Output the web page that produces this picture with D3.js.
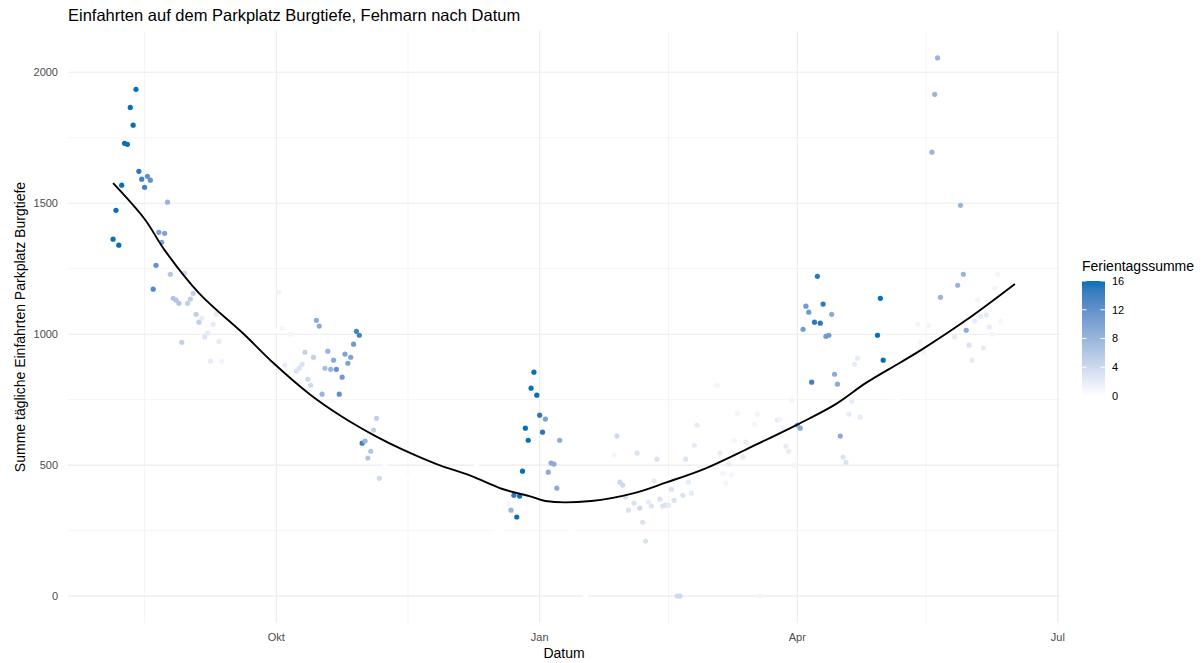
<!DOCTYPE html>
<html>
<head>
<meta charset="utf-8">
<script src="https://cdn.jsdelivr.net/npm/d3@7"></script>
<style>
  body { margin: 0; background: #fff; }
  text { font-family: "Liberation Sans", Arial, sans-serif; }
</style>
</head>
<body>
<div class="main"></div>
<script>
// Daily entries: date, count, holiday-day sum (Ferientagssumme)
const dates = [
  "2022-08-05","2022-08-06","2022-08-07","2022-08-08","2022-08-09","2022-08-10","2022-08-11","2022-08-12",
  "2022-08-13","2022-08-14","2022-08-15","2022-08-16","2022-08-17","2022-08-18","2022-08-19","2022-08-20",
  "2022-08-21","2022-08-22","2022-08-23","2022-08-24","2022-08-25","2022-08-26","2022-08-27","2022-08-28",
  "2022-08-29","2022-08-30","2022-08-31","2022-09-01","2022-09-02","2022-09-03","2022-09-04","2022-09-05",
  "2022-09-06","2022-09-07","2022-09-08","2022-09-09","2022-09-10","2022-09-11","2022-09-12",
  "2022-10-01","2022-10-02","2022-10-03","2022-10-04","2022-10-06","2022-10-08","2022-10-09","2022-10-10",
  "2022-10-11","2022-10-12","2022-10-13","2022-10-14","2022-10-15","2022-10-16","2022-10-17","2022-10-18",
  "2022-10-19","2022-10-20","2022-10-21","2022-10-22","2022-10-23","2022-10-24","2022-10-25","2022-10-26",
  "2022-10-27","2022-10-28","2022-10-29","2022-10-30","2022-10-31","2022-11-01","2022-11-02","2022-11-03",
  "2022-11-04","2022-11-05","2022-11-06","2022-11-08","2022-11-16","2022-12-10","2022-12-17","2022-12-19",
  "2022-12-21","2022-12-22","2022-12-23","2022-12-24","2022-12-25","2022-12-26","2022-12-27","2022-12-28",
  "2022-12-29","2022-12-30","2022-12-31","2023-01-01","2023-01-02","2023-01-03","2023-01-04","2023-01-05",
  "2023-01-06","2023-01-07","2023-01-08","2023-01-12","2023-01-17","2023-01-27","2023-01-28","2023-01-29",
  "2023-01-30","2023-01-31","2023-02-01","2023-02-03","2023-02-04","2023-02-05","2023-02-06","2023-02-07",
  "2023-02-08","2023-02-09","2023-02-10","2023-02-11","2023-02-12","2023-02-13","2023-02-14","2023-02-15",
  "2023-02-16","2023-02-17","2023-02-18","2023-02-19","2023-02-20","2023-02-21","2023-02-22","2023-02-23",
  "2023-02-24","2023-02-25","2023-02-26","2023-03-04","2023-03-05","2023-03-06","2023-03-07","2023-03-08",
  "2023-03-09","2023-03-10","2023-03-11","2023-03-13","2023-03-14","2023-03-15","2023-03-17","2023-03-18",
  "2023-03-19","2023-03-25","2023-03-26","2023-03-27","2023-03-28","2023-03-29","2023-03-30","2023-03-31",
  "2023-04-01","2023-04-02","2023-04-03","2023-04-04","2023-04-05","2023-04-06","2023-04-07","2023-04-08",
  "2023-04-09","2023-04-10","2023-04-11","2023-04-12","2023-04-13","2023-04-14","2023-04-15","2023-04-16",
  "2023-04-17","2023-04-18","2023-04-19","2023-04-20","2023-04-21","2023-04-22","2023-04-23","2023-04-29",
  "2023-04-30","2023-05-01","2023-05-06","2023-05-13","2023-05-14","2023-05-15","2023-05-17","2023-05-18",
  "2023-05-19","2023-05-20","2023-05-21","2023-05-26","2023-05-27","2023-05-28","2023-05-29","2023-05-30",
  "2023-05-31","2023-06-01","2023-06-02","2023-06-03","2023-06-04","2023-06-05","2023-06-06","2023-06-07",
  "2023-06-08","2023-06-09","2023-06-10","2023-06-11","2023-06-16"
]
const counts = [
  1363,1473,1340,1569,1729,1725,1866,1798,
  1935,1622,1592,1561,1603,1588,1172,1263,
  1389,1351,1385,1504,1229,1137,1130,1118,
  969,1233,1118,1134,1156,1076,1046,1061,
  989,1004,897,1038,1076,973,897,
  1013,1160,1023,882,1000,859,870,885,
  931,828,805,912,1053,1031,771,870,
  935,866,901,866,771,836,924,889,
  912,962,1011,996,584,592,527,553,
  634,679,450,500,450,500,252,252,
  351,328,385,302,382,477,641,595,
  794,855,767,691,626,676,473,508,
  504,412,595,252,0,538,611,435,
  424,378,328,355,546,336,282,210,
  359,344,439,523,370,344,347,347,
  408,366,0,0,385,523,435,393,
  576,653,492,805,546,469,431,504,
  462,595,698,531,588,576,656,695,
  0,672,676,641,573,553,748,500,
  653,641,1019,1107,1084,817,1046,1221,
  1042,1115,992,996,1076,847,809,611,
  531,511,695,744,885,908,683,996,
  1137,901,748,1038,969,931,1034,1695,
  1916,2055,1141,989,1187,1492,1229,1015,
  958,901,1050,1130,1069,947,1073,1027,
  1000,1176,1229,1050,1190
]
const holidays = [
  16,16,16,16,16,16,16,16,
  16,15,14,14,12,12,13,12,
  10,10,10,8,6,6,6,6,
  5,4,5,5,5,5,5,2,
  3,2,2,2,2,2,1,
  0,1,1,2,1,3,3,3,
  5,4,4,5,9,9,8,7,
  8,8,9,12,12,11,10,10,
  10,11,14,14,14,8,6,6,
  5,5,4,0,0,0,0,0,
  1,8,15,16,16,16,16,16,
  16,16,16,15,15,10,9,9,
  9,9,9,0,0,1,4,4,
  4,3,3,3,3,4,3,3,
  2,3,2,3,3,3,3,2,
  3,3,4,4,3,3,2,2,
  2,2,1,1,2,1,1,2,
  1,1,1,2,2,1,1,1,
  1,2,1,1,2,2,1,1,
  9,9,11,11,11,14,15,15,
  15,15,11,11,9,9,9,9,
  3,3,2,2,2,2,2,16,
  16,16,0,1,1,1,1,8,
  8,8,8,2,8,8,8,9,
  3,2,2,1,2,2,2,2,
  1,1,1,1,0
]

// Smoothed trend
const trendDates = [
  "2022-08-05","2022-08-16","2022-08-23","2022-09-04","2022-09-20","2022-09-30","2022-10-13",
  "2022-10-24","2022-11-05","2022-11-14","2022-11-26","2022-12-08","2022-12-19","2022-12-29",
  "2023-01-03","2023-01-19","2023-02-03","2023-02-14","2023-02-28","2023-03-16","2023-04-01",
  "2023-04-14","2023-04-25","2023-05-07","2023-05-15","2023-05-30","2023-06-16"
]
const trendValues = [
  1577,1440,1321,1157,997,890,768,
  685,609,560,504,459,409,380,
  363,363,393,433,488,570,655,
  730,814,892,945,1054,1192
]

const yTicks = [0, 500, 1000, 1500, 2000]
const yMinor = [250, 750, 1250, 1750]
const xTicks = ["2022-10-01", "2023-01-01", "2023-04-01", "2023-07-01"]
const xTickLabels = ["Okt", "Jan", "Apr", "Jul"]
const xMinor = ["2022-08-16", "2022-11-16", "2023-02-15", "2023-05-16"]
const legendTicks = [0, 4, 8, 12, 16]

const parse = d3.timeParse("%Y-%m-%d")
const data = dates.map((d, i) => ({date: parse(d), count: counts[i], hol: holidays[i]}))
const trend = trendDates.map((d, i) => ({date: parse(d), value: trendValues[i]}))

const width = 1201
const height = 663
const panel = ({left: 68, right: 1060, top: 31, bottom: 623})

// ggplot-style 5% expansion
const xExt = d3.extent(data, d => d.date)
const xPad = (xExt[1] - xExt[0]) * 0.05
const xScale = d3.scaleTime()
  .domain([new Date(+xExt[0] - xPad), new Date(+xExt[1] + xPad)])
  .range([panel.left, panel.right])

const yExt = d3.extent(data, d => d.count)
const yPad = (yExt[1] - yExt[0]) * 0.05
const yScale = d3.scaleLinear()
  .domain([yExt[0] - yPad, yExt[1] + yPad])
  .range([panel.bottom, panel.top])

const color = d3.scaleLinear()
  .domain([0, 16])
  .range(["#ffffff", "#0670b8"])
  .interpolate(d3.interpolateLab)

const svg = d3.select(".main").append("svg")
  .attr("width", width)
  .attr("height", height)

// Grid
const grid = svg.append("g").attr("stroke", "#ebebeb")
grid.selectAll(".ymin").data(yMinor).join("line")
  .attr("x1", panel.left).attr("x2", panel.right)
  .attr("y1", d => yScale(d)).attr("y2", d => yScale(d))
  .attr("stroke-width", 0.55)
grid.selectAll(".xmin").data(xMinor).join("line")
  .attr("y1", panel.top).attr("y2", panel.bottom)
  .attr("x1", d => xScale(parse(d))).attr("x2", d => xScale(parse(d)))
  .attr("stroke-width", 0.55)
grid.selectAll(".ymaj").data(yTicks).join("line")
  .attr("x1", panel.left).attr("x2", panel.right)
  .attr("y1", d => yScale(d)).attr("y2", d => yScale(d))
  .attr("stroke-width", 1.1)
grid.selectAll(".xmaj").data(xTicks).join("line")
  .attr("y1", panel.top).attr("y2", panel.bottom)
  .attr("x1", d => xScale(parse(d))).attr("x2", d => xScale(parse(d)))
  .attr("stroke-width", 1.1)

// Points
svg.append("g")
  .selectAll("circle")
  .data(data)
  .join("circle")
    .attr("cx", d => xScale(d.date))
    .attr("cy", d => yScale(d.count))
    .attr("r", 2.6)
    .attr("fill", d => color(d.hol))

// Trend line
svg.append("path")
  .datum(trend)
  .attr("fill", "none")
  .attr("stroke", "#000")
  .attr("stroke-width", 1.9)
  .attr("d", d3.line()
    .x(d => xScale(d.date))
    .y(d => yScale(d.value))
    .curve(d3.curveCatmullRom.alpha(0.5)))

// Axis labels
svg.append("g")
  .selectAll("text")
  .data(yTicks)
  .join("text")
    .attr("x", 58)
    .attr("y", d => yScale(d))
    .attr("dy", "0.36em")
    .attr("text-anchor", "end")
    .attr("font-size", 11)
    .attr("fill", "#4d4d4d")
    .text(d => d)

svg.append("g")
  .selectAll("text")
  .data(xTicks)
  .join("text")
    .attr("x", d => xScale(parse(d)))
    .attr("y", 641)
    .attr("text-anchor", "middle")
    .attr("font-size", 11)
    .attr("fill", "#4d4d4d")
    .text((d, i) => xTickLabels[i])

svg.append("text")
  .attr("x", (panel.left + panel.right) / 2)
  .attr("y", 658)
  .attr("text-anchor", "middle")
  .attr("font-size", 14)
  .attr("fill", "#000")
  .text("Datum")

svg.append("text")
  .attr("transform", `translate(25, ${(panel.top + panel.bottom) / 2}) rotate(-90)`)
  .attr("text-anchor", "middle")
  .attr("font-size", 14)
  .attr("fill", "#000")
  .text("Summe tägliche Einfahrten Parkplatz Burgtiefe")

svg.append("text")
  .attr("x", panel.left)
  .attr("y", 21)
  .attr("font-size", 16.5)
  .attr("fill", "#000")
  .text("Einfahrten auf dem Parkplatz Burgtiefe, Fehmarn nach Datum")

// Legend (colour bar)
const legendScale = d3.scaleLinear().domain([0, 16]).range([396, 281])
const defs = svg.append("defs")
const grad = defs.append("linearGradient")
  .attr("id", "holGrad")
  .attr("x1", 0).attr("y1", 1).attr("x2", 0).attr("y2", 0)
grad.selectAll("stop")
  .data(d3.range(0, 17))
  .join("stop")
    .attr("offset", d => d / 16)
    .attr("stop-color", d => color(d))

svg.append("text")
  .attr("x", 1082)
  .attr("y", 271)
  .attr("font-size", 14)
  .attr("fill", "#000")
  .text("Ferientagssumme")

svg.append("rect")
  .attr("x", 1082)
  .attr("y", legendScale(16))
  .attr("width", 23)
  .attr("height", legendScale(0) - legendScale(16))
  .attr("fill", "url(#holGrad)")

const lt = svg.append("g")
lt.selectAll(".tl").data(legendTicks).join("line")
  .attr("x1", 1082).attr("x2", 1086.5)
  .attr("y1", d => legendScale(d)).attr("y2", d => legendScale(d))
  .attr("stroke", "#fff")
lt.selectAll(".tr").data(legendTicks).join("line")
  .attr("x1", 1100.5).attr("x2", 1105)
  .attr("y1", d => legendScale(d)).attr("y2", d => legendScale(d))
  .attr("stroke", "#fff")
lt.selectAll("text").data(legendTicks).join("text")
  .attr("x", 1112)
  .attr("y", d => legendScale(d))
  .attr("dy", "0.36em")
  .attr("font-size", 11)
  .attr("fill", "#000")
  .text(d => d)
</script>
</body>
</html>
